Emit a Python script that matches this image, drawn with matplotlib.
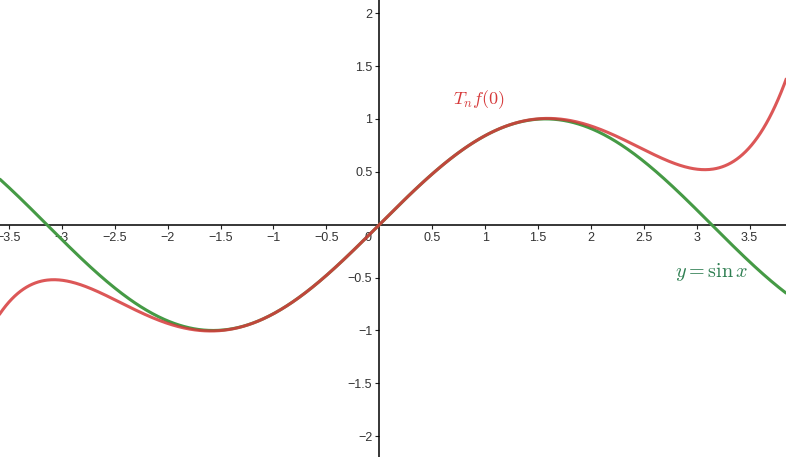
import numpy as np
import matplotlib
matplotlib.use('Agg')
import matplotlib.pyplot as plt

# window of the graph
x_lim = (-3.585, 3.844)
y_lim = (-2.196, 2.124)

# Taylor coefficients of sin x at 0, degree 5
taylor_coef = [0, 1, 0, -1 / 6, 0, 1 / 120]

x_ticks = [-3.5, -3, -2.5, -2, -1.5, -1, -0.5, 0.5, 1, 1.5, 2, 2.5, 3, 3.5]
y_ticks = [-2, -1.5, -1, -0.5, 0.5, 1, 1.5, 2]

plt.rcParams['mathtext.fontset'] = 'cm'
plt.rcParams['font.family'] = ['Liberation Sans', 'DejaVu Sans']

fig = plt.figure(figsize=(7.86, 4.57), dpi=100)
ax = fig.add_axes([0, 0, 1, 1])

x = np.linspace(x_lim[0], x_lim[1], 800)
y_sin = np.sin(x)
y_taylor = np.polynomial.polynomial.polyval(x, taylor_coef)

ax.plot(x, y_sin, color='#459a45', lw=2.2, solid_capstyle='round', zorder=3)
ax.plot(x, y_taylor, color='#d6393a', lw=2.2, alpha=0.85, zorder=4)

ax.set_xlim(*x_lim)
ax.set_ylim(*y_lim)

# axes through the origin
for side in ['top', 'right']:
    ax.spines[side].set_visible(False)
ax.spines['left'].set_position(('data', 0))
ax.spines['bottom'].set_position(('data', 0))
ax.spines['left'].set_linewidth(1.1)
ax.spines['bottom'].set_linewidth(1.1)

def fmt(v):
    s = ('%g' % v)
    return s.replace('-', '\u2212')

ax.set_xticks(x_ticks)
ax.set_xticklabels([fmt(v) for v in x_ticks])
ax.set_yticks(y_ticks)
ax.set_yticklabels([fmt(v) for v in y_ticks])
ax.tick_params(axis='both', length=3, width=0.8, labelsize=9,
               labelcolor='#333333', color='#222222')
ax.tick_params(axis='x', pad=2)
ax.tick_params(axis='y', pad=2)
ax.text(-0.07, -0.065, '0', ha='right', va='top', fontsize=9, color='#333333')

ax.text(0.94, 1.18, r'$T_nf(0)$', color='#d6393a', fontsize=13,
        ha='center', va='center')
ax.text(3.14, -0.45, r'$y = \sin x$', color='#2f7f52', fontsize=14.5,
        ha='center', va='center')

fig.savefig('out.png', dpi=100)
